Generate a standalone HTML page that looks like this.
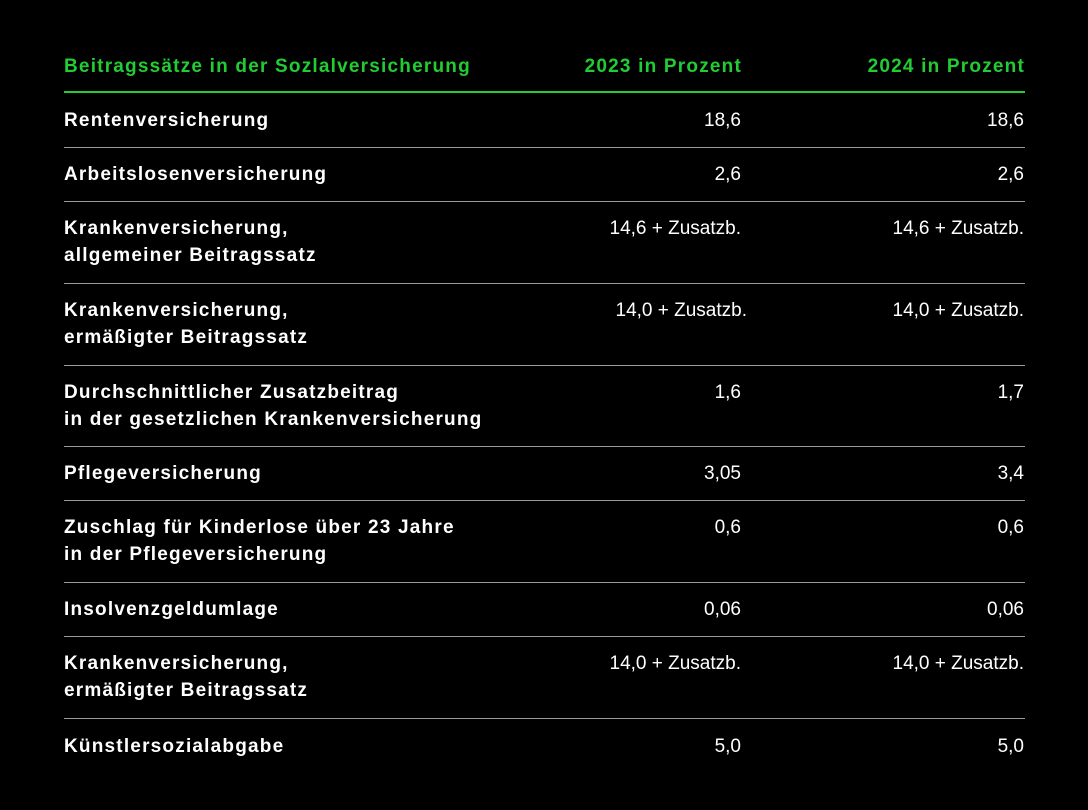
<!DOCTYPE html>
<html><head><meta charset="utf-8"><style>
body{margin:0;width:1088px;height:810px;background:#000;overflow:hidden;font-family:"Liberation Sans",sans-serif;}
.t{position:absolute;font-size:19px;line-height:27px;color:#fff;white-space:nowrap;}
.b{font-weight:bold;letter-spacing:1.2px;}
.g{color:#22cc33;font-weight:bold;letter-spacing:1.2px;}
.r1{right:347px;text-align:right;}
.r2{right:64px;text-align:right;}
.g.r1,.g.r2,.b.r1,.b.r2{margin-right:-1px;}
.l{left:64px;}
.ln{position:absolute;left:64px;width:961px;height:1px;background:#9a9a9a;}
</style></head><body>
<div class="t g l" style="top:53px">Beitragssätze in der Sozlalversicherung</div>
<div class="t g r1" style="top:53px">2023 in Prozent</div>
<div class="t g r2" style="top:53px">2024 in Prozent</div>
<div class="ln" style="top:91px;height:2px;background:#22cc33"></div>

<div class="t b l" style="top:107px">Rentenversicherung</div>
<div class="t r1" style="top:107px">18,6</div><div class="t r2" style="top:107px">18,6</div>
<div class="ln" style="top:147px"></div>

<div class="t b l" style="top:161px">Arbeitslosenversicherung</div>
<div class="t r1" style="top:161px">2,6</div><div class="t r2" style="top:161px">2,6</div>
<div class="ln" style="top:201px"></div>

<div class="t b l" style="top:215px">Krankenversicherung,<br>allgemeiner Beitragssatz</div>
<div class="t r1" style="top:215px">14,6 + Zusatzb.</div><div class="t r2" style="top:215px">14,6 + Zusatzb.</div>
<div class="ln" style="top:283px"></div>

<div class="t b l" style="top:297px">Krankenversicherung,<br>ermäßigter Beitragssatz</div>
<div class="t r1" style="top:297px;right:341px">14,0 + Zusatzb.</div><div class="t r2" style="top:297px">14,0 + Zusatzb.</div>
<div class="ln" style="top:365px"></div>

<div class="t b l" style="top:379px">Durchschnittlicher Zusatzbeitrag<br>in der gesetzlichen Krankenversicherung</div>
<div class="t r1" style="top:379px">1,6</div><div class="t r2" style="top:379px">1,7</div>
<div class="ln" style="top:446px"></div>

<div class="t b l" style="top:460px">Pflegeversicherung</div>
<div class="t r1" style="top:460px">3,05</div><div class="t r2" style="top:460px">3,4</div>
<div class="ln" style="top:500px"></div>

<div class="t b l" style="top:514px">Zuschlag für Kinderlose über 23 Jahre<br>in der Pflegeversicherung</div>
<div class="t r1" style="top:514px">0,6</div><div class="t r2" style="top:514px">0,6</div>
<div class="ln" style="top:582px"></div>

<div class="t b l" style="top:596px">Insolvenzgeldumlage</div>
<div class="t r1" style="top:596px">0,06</div><div class="t r2" style="top:596px">0,06</div>
<div class="ln" style="top:636px"></div>

<div class="t b l" style="top:650px">Krankenversicherung,<br>ermäßigter Beitragssatz</div>
<div class="t r1" style="top:650px">14,0 + Zusatzb.</div><div class="t r2" style="top:650px">14,0 + Zusatzb.</div>
<div class="ln" style="top:718px"></div>

<div class="t b l" style="top:733px">Künstlersozialabgabe</div>
<div class="t r1" style="top:733px">5,0</div><div class="t r2" style="top:733px">5,0</div>
</body></html>
